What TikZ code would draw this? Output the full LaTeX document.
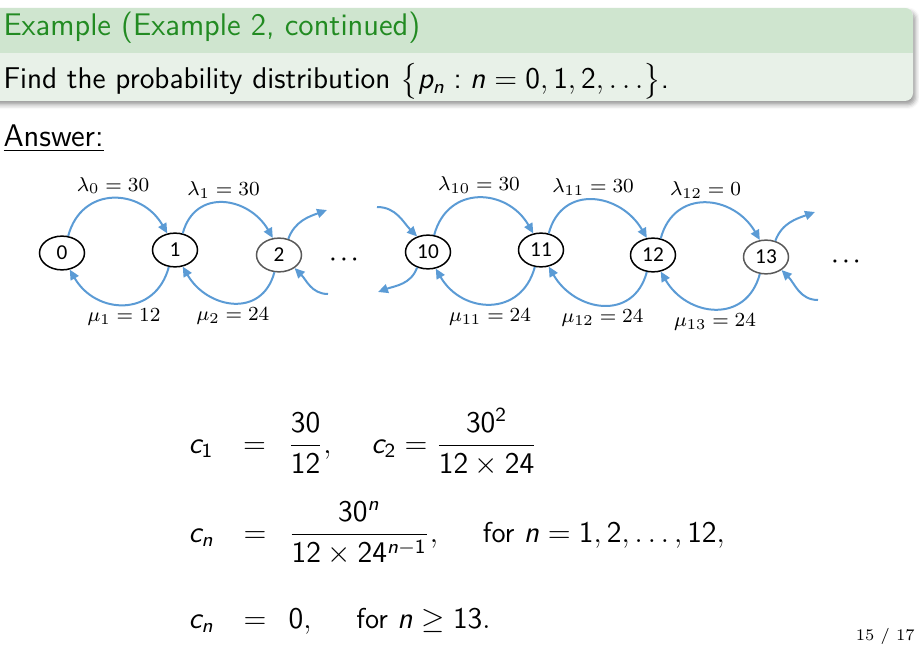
\documentclass[tikz,border=0pt]{standalone}
\usepackage{amsmath}
\usepackage{amssymb}
\usepackage[no-math]{fontspec}
\usepackage{xcolor}
\usepackage{tikz}
\usetikzlibrary{shapes.geometric,arrows.meta,shadows.blur}
\newfontfamily\statefont{Carlito}
\renewcommand{\familydefault}{\sfdefault}
\DeclareMathVersion{sans}
\SetSymbolFont{operators}{sans}{OT1}{cmss}{m}{n}
\DeclareMathAlphabet{\mathssl}{OT1}{cmss}{m}{sl}
\definecolor{blocktitle}{RGB}{207,229,207}
\definecolor{blockbody}{RGB}{232,241,232}
\definecolor{titlegreen}{RGB}{34,139,34}
\definecolor{flowblue}{RGB}{91,155,213}
\definecolor{stategray}{RGB}{89,89,89}
\tikzset{
  state/.style={ellipse, draw=black, line width=0.6pt, minimum width=18pt, minimum height=13.5pt, inner sep=0pt, font=\statefont\fontsize{8.5}{9}\selectfont},
  flow/.style={flowblue, line width=0.8pt, looseness=1.35, -{Triangle[length=4pt,width=3.6pt]}},
  rate/.style={text=black, font=\fontsize{8}{9}\selectfont, inner sep=1.5pt},
  slidetext/.style={anchor=base west, inner sep=0pt, font=\fontsize{12.5}{14}\selectfont\mathversion{sans}},
  eqtext/.style={anchor=base west, inner sep=0pt, font=\fontsize{11.5}{14}\selectfont\mathversion{sans}}
}

\begin{document}
\begin{tikzpicture}[x=0.4pt, y=0.4pt]
  \useasboundingbox (0,0) rectangle (919,648);
  % block
  \fill[blockbody, rounded corners=3.2pt, blur shadow={shadow xshift=1pt, shadow yshift=-1.5pt}] (-20,547) rectangle (913,640);
  \begin{scope}
    \clip[rounded corners=3.2pt] (-20,547) rectangle (913,640);
    \fill[blocktitle] (-20,595) rectangle (913,640);
  \end{scope}
  \node[slidetext, text=titlegreen] (title) at (3,612) {Example (Example 2, continued)};
  \node[slidetext, font=\fontsize{12}{14}\selectfont\mathversion{sans}] (task) at (3,559) {Find the probability distribution $\bigl\{\mathssl{p}_{\mathssl{n}} \mathrel{\mathchar"303A} \mathssl{n} = 0, 1, 2, \ldots\bigr\}$.};
  \node[slidetext] (answer) at (3,502) {\underline{Answer:}};
  % states
  \foreach \n/\x/\y/\c in {0/62/395/black, 1/175/398/black, 2/279/393/stategray, 10/428/396/black, 11/541/398/black, 12/653/393/black, 13/766/391/stategray}
    \node[state, draw=\c] (n\n) at (\x,\y) {\n};
  \node[font=\fontsize{8}{9}\selectfont] (dotsA) at (346,388) {$\boldsymbol{\cdots}$};
  \node[font=\fontsize{8}{9}\selectfont] (dotsB) at (848,386) {$\boldsymbol{\cdots}$};
  % arrivals
  \draw[flow] (n0.70) to[out=75,in=120] node[rate, above] {$\lambda_0 = 30$} (n1.115);
  \draw[flow] (n1.65) to[out=75,in=120] node[rate, above] {$\lambda_1 = 30$} (n2.110);
  \draw[flow] (n10.70) to[out=75,in=120] node[rate, above] {$\lambda_{10} = 30$} (n11.115);
  \draw[flow] (n11.65) to[out=75,in=120] node[rate, above] {$\lambda_{11} = 30$} (n12.110);
  \draw[flow] (n12.65) to[out=75,in=120] node[rate, above] {$\lambda_{12} = 0$} (n13.110);
  % services
  \draw[flow] (n1.-110) to[out=-105,in=-60] node[rate, below] {$\mu_1 = 12$} (n0.-65);
  \draw[flow] (n2.-105) to[out=-105,in=-60] node[rate, below] {$\mu_2 = 24$} (n1.-65);
  \draw[flow] (n11.-110) to[out=-105,in=-60] node[rate, below] {$\mu_{11} = 24$} (n10.-65);
  \draw[flow] (n12.-110) to[out=-105,in=-60] node[rate, below] {$\mu_{12} = 24$} (n11.-65);
  \draw[flow] (n13.-110) to[out=-105,in=-60] node[rate, below] {$\mu_{13} = 24$} (n12.-65);
  % open ends
  \coordinate (outA) at (327,438);
  \coordinate (inA) at (328,354);
  \coordinate (inB) at (377,441);
  \coordinate (outB) at (378,356);
  \coordinate (outC) at (815,436);
  \coordinate (inC) at (818,348);
  \draw[flow, looseness=1] (n2.60) to[out=70,in=200] (outA);
  \draw[flow, looseness=1] (inA) to[out=180,in=-45] (n2.-40);
  \draw[flow, looseness=1] (inB) to[out=0,in=135] (n10.125);
  \draw[flow, looseness=1] (n10.-125) to[out=-110,in=20] (outB);
  \draw[flow, looseness=1] (n13.60) to[out=70,in=200] (outC);
  \draw[flow, looseness=1] (inC) to[out=180,in=-45] (n13.-40);
  % equations
  \node[eqtext] (eqA) at (188,195) {$\displaystyle \mathssl{c}_1 \hspace{8.5pt}=\hspace{5.5pt} \frac{30}{12}, \hspace{14pt} \mathssl{c}_2 = \frac{30^2}{12\times 24}$};
  \node[eqtext] (eqB) at (188,106) {$\displaystyle \mathssl{c}_{\mathssl{n}} \hspace{8.5pt}=\hspace{5.5pt} \frac{30^{\mathssl{n}}}{12\times 24^{\mathssl{n}-1}}, \hspace{16pt} \text{for } \mathssl{n} = 1, 2, \ldots, 12,$};
  \node[eqtext] (eqC) at (188,20) {$\displaystyle \mathssl{c}_{\mathssl{n}} \hspace{8.5pt}=\hspace{5.5pt} 0, \hspace{16pt} \text{for } \mathssl{n} \geq 13.$};
  \node[anchor=base east, font=\rmfamily\fontsize{6.5}{8}\selectfont, inner sep=0pt] (pageno) at (915,8) {15 / 17};
\end{tikzpicture}
\end{document}
